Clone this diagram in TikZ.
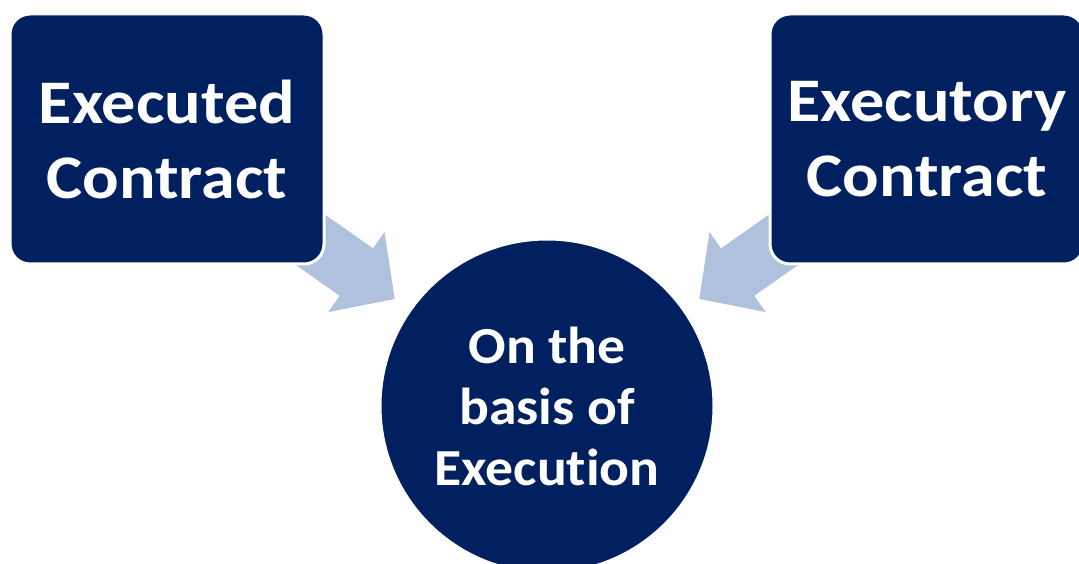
\documentclass[tikz,border=0pt]{standalone}
\usepackage{fontspec}
\setmainfont{Carlito}
\newfontfamily\boxfont[FakeStretch=1.1,Ligatures=NoCommon]{Carlito}
\newfontfamily\basisfont[FakeStretch=1.07,Ligatures=NoCommon]{Carlito}
\usetikzlibrary{arrows.meta}
\definecolor{navy}{RGB}{0,32,96}
\definecolor{paleblue}{RGB}{176,193,222}
\tikzset{cbox/.style={rectangle,rounded corners=20pt,draw=white,line width=3pt,fill=navy,
	 text=white,minimum width=314pt,minimum height=250pt,align=center,outer sep=0pt,
	 font=\boxfont\fontsize{62}{75}\selectfont\bfseries},
	 cbasis/.style={circle,draw=white,line width=3pt,fill=navy,text=white,inner sep=0pt,
	 minimum size=334pt,align=center,font=\basisfont\fontsize{52}{61}\selectfont\bfseries},
	 fat/.style={paleblue,line width=58pt,-{Triangle[width=95pt,length=47pt]},shorten >=186pt}
	 }

\begin{document}
\begin{tikzpicture}[x=1pt,y=1pt] % types of contract, by execution
	\useasboundingbox (0,0) rectangle (1079,563);
	\clip (0,0) rectangle (1079,563);
	\coordinate (exdc) at (167,424);
	\coordinate (exyc) at (927,424);
	\coordinate (basisc) at (547,157);
	\draw[fat] (exdc) -- (basisc); \draw[fat] (exyc) -- (basisc);
	\node[cbox] (exd) at (exdc) {Executed\\Contract};
	\node[cbox] (exy) at (exyc) {Executory\\Contract};
	\node[cbasis] (basis) at (basisc) {On the\\basis of\\Execution};
\end{tikzpicture}
\end{document}
